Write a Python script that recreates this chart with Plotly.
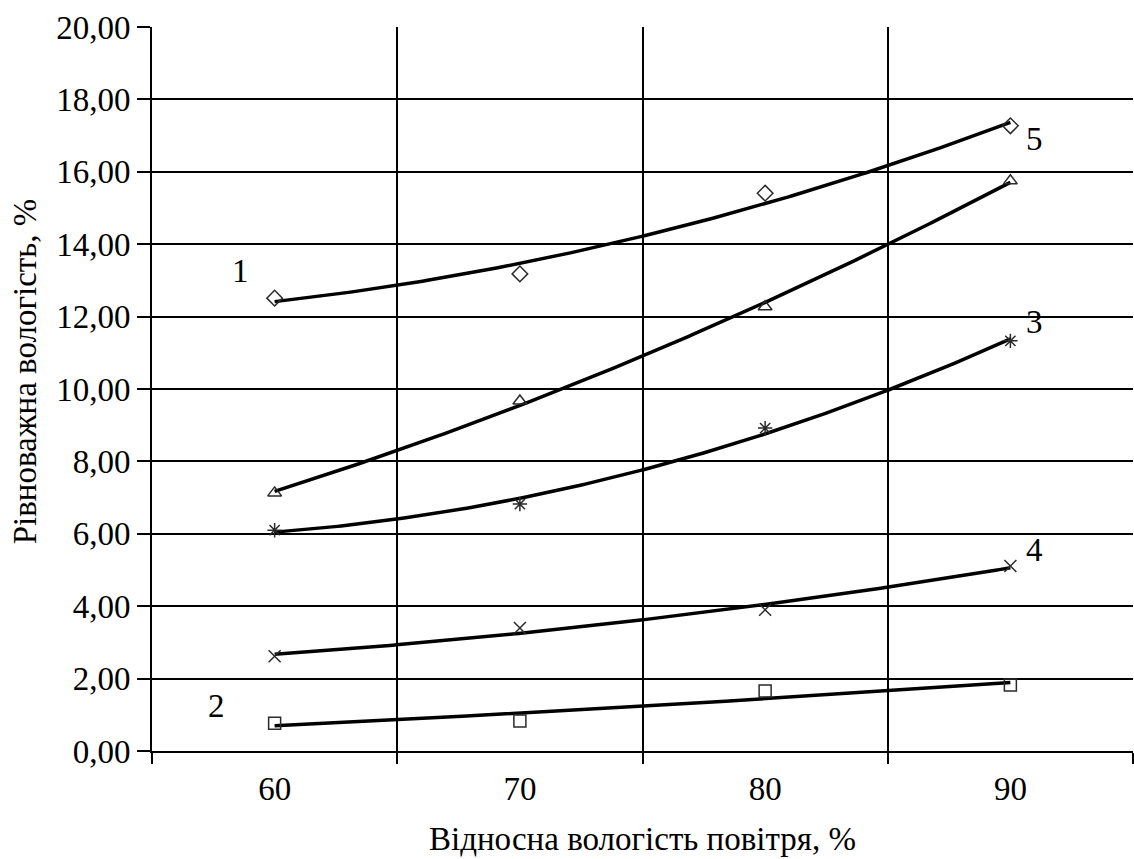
import numpy as np
import plotly.graph_objects as go

# Relative air humidity, %
humidity = [60, 70, 80, 90]

# Equilibrium moisture content, % (curves 1..5)
curve_1 = [12.51, 13.18, 15.41, 17.27]
curve_2 = [0.77, 0.83, 1.66, 1.82]
curve_3 = [6.10, 6.82, 8.92, 11.33]
curve_4 = [2.62, 3.40, 3.90, 5.11]
curve_5 = [7.13, 9.67, 12.27, 15.75]

y_ticks = [0, 2, 4, 6, 8, 10, 12, 14, 16, 18, 20]
x_ticks = [60, 70, 80, 90]

series = [
    ("1", curve_1, "diamond-open"),
    ("5", curve_5, "triangle-up-open"),
    ("3", curve_3, "asterisk-open"),
    ("4", curve_4, "x-thin-open"),
    ("2", curve_2, "square-open"),
]

# curve label positions (x, y) in data units
label_pos = {
    "1": (58.6, 13.25),
    "2": (57.65, 1.25),
    "3": (91.0, 11.85),
    "4": (91.0, 5.55),
    "5": (91.0, 16.9),
}

FONT = "Liberation Serif, Times New Roman, serif"
FS = 33

fig = go.Figure()

x_dense = np.linspace(humidity[0], humidity[-1], 200)
for name, vals, sym in series:
    # second-order polynomial trendline through the measured points
    coef = np.polyfit(humidity, vals, 2)
    fig.add_trace(go.Scatter(
        x=x_dense, y=np.polyval(coef, x_dense), mode="lines",
        line=dict(color="black", width=3.5), showlegend=False, hoverinfo="skip",
    ))
    fig.add_trace(go.Scatter(
        x=humidity, y=vals, mode="markers", name=name,
        marker=dict(symbol=sym, size=12, color="#2a2a2a",
                    line=dict(color="#2a2a2a", width=1.5)),
        showlegend=False,
    ))

for name, (lx, ly) in label_pos.items():
    fig.add_annotation(x=lx, y=ly, text=name, showarrow=False,
                       font=dict(family=FONT, size=FS, color="black"))

# vertical axis title
fig.add_annotation(xref="paper", yref="paper", x=-0.130, y=0.525,
                   text="Рівноважна вологість, %", textangle=-90,
                   showarrow=False, xanchor="center", yanchor="middle",
                   font=dict(family=FONT, size=FS, color="black"))

fig.update_layout(
    width=1134, height=859,
    margin=dict(l=152, r=1, t=27, b=108),
    paper_bgcolor="white", plot_bgcolor="white",
    separators=", ",
    font=dict(family=FONT, size=FS, color="black"),
    xaxis=dict(
        range=[55, 95], tickvals=x_ticks, ticktext=[str(v) for v in x_ticks],
        showgrid=False, ticks="", zeroline=False,
        showline=True, linecolor="black", linewidth=2,
        tickfont=dict(family=FONT, size=FS), ticklabelstandoff=7,
        minor=dict(tick0=55, dtick=10, showgrid=True, gridcolor="black",
                   gridwidth=2, ticks="outside", ticklen=11, tickwidth=2,
                   tickcolor="black"),
        title=dict(text="Відносна вологість повітря, %",
                   font=dict(family=FONT, size=FS), standoff=21),
    ),
    yaxis=dict(
        range=[0, 20], tickvals=y_ticks, tickformat=".2f",
        showgrid=True, gridcolor="black", gridwidth=2,
        ticks="outside", ticklen=13, tickwidth=2, tickcolor="black",
        zeroline=False, showline=True, linecolor="black", linewidth=2,
        tickfont=dict(family=FONT, size=FS),
    ),
)

fig.write_html("out.html")
